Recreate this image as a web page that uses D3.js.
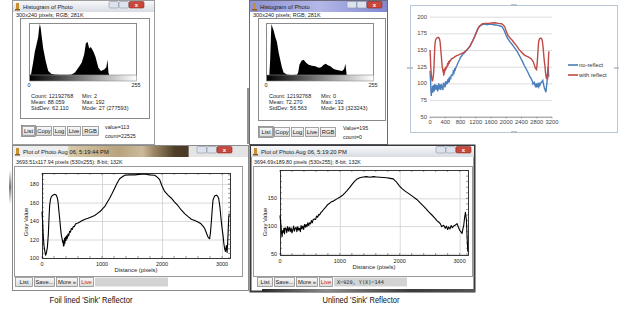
<!DOCTYPE html>
<html>
<head>
<meta charset="utf-8">
<script src="https://cdn.jsdelivr.net/npm/d3@7"></script>
<style>
  html, body { margin: 0; padding: 0; background: #fff; }
  svg { display: block; font-family: "Liberation Sans", Arial, sans-serif; }
</style>
</head>
<body>
<svg id="chart" width="619" height="311"></svg>
<script>
// ---- data ----
// histogram 1 (bin -> count relative to the mode)
const hist1Bins = [2, 5, 10, 14, 18, 21, 22, 24, 26, 28, 30, 34, 40, 46, 54, 62, 75, 95, 102, 110, 118, 126, 132, 136, 140, 144, 148, 154, 159, 166, 172, 180, 185, 188, 190, 191, 192];
const hist1Vals = [0, 0.02, 0.25, 0.46, 0.6, 0.71, 0.74, 0.9, 1.0, 0.92, 0.78, 0.52, 0.27, 0.08, 0.02, 0.01, 0.005, 0.005, 0.01, 0.05, 0.14, 0.24, 0.4, 0.62, 0.65, 0.52, 0.55, 0.46, 0.36, 0.14, 0.08, 0.11, 0.15, 0.3, 0.05, 0.02, 0];
// histogram 2
const hist2Bins = [0, 8, 10, 12, 13, 16, 18, 22, 26, 30, 34, 38, 42, 50, 60, 74, 77, 80, 85, 90, 96, 102, 110, 118, 126, 132, 138, 143, 148, 154, 162, 170, 182, 187, 190, 191, 193];
const hist2Vals = [0, 0, 0.3, 0.8, 1.0, 0.92, 0.88, 0.75, 0.65, 0.45, 0.3, 0.15, 0.05, 0.01, 0, 0.005, 0.05, 0.2, 0.28, 0.3, 0.24, 0.2, 0.18, 0.17, 0.14, 0.15, 0.2, 0.22, 0.19, 0.17, 0.12, 0.1, 0.08, 0.12, 0.22, 0.15, 0];

const hist1Stats = ["Count: 12192768", "Mean: 88.059", "StdDev: 62.110"];
const hist1Stats2 = ["Min: 2", "Max: 192", "Mode: 27 (277593)"];
const hist2Stats = ["Count: 12192768", "Mean: 72.270", "StdDev: 56.563"];
const hist2Stats2 = ["Min: 0", "Max: 192", "Mode: 13 (323243)"];
const histButtons = ["List", "Copy", "Log", "Live", "RGB"];

// profile with foil lined reflector (distance, gray value)
const foilDist = [0, 10, 20, 33, 45, 60, 75, 90, 105, 118, 128, 140, 155, 180, 211, 239, 255, 267, 280, 294, 310, 322, 335, 345, 350, 358, 367, 375, 382, 389, 400, 410, 420, 433, 445, 460, 475, 489, 505, 520, 540, 560, 572, 600, 630, 656, 700, 740, 767, 820, 878, 920, 961, 1000, 1044, 1085, 1128, 1170, 1211, 1250, 1294, 1340, 1378, 1450, 1544, 1620, 1711, 1790, 1878, 1920, 1961, 2000, 2044, 2100, 2156, 2210, 2267, 2320, 2378, 2430, 2489, 2545, 2600, 2650, 2690, 2711, 2740, 2767, 2794, 2808, 2822, 2836, 2850, 2875, 2906, 2925, 2944, 2965, 2989, 3003, 3017, 3030, 3044, 3058, 3072, 3085, 3095, 3103, 3111, 3120];
const foilGray = [150, 140, 125, 113.5, 108, 103, 106, 112, 125, 145, 157, 163, 166.5, 168, 169, 168, 165, 161, 152, 143, 132, 124.5, 121, 117, 119, 113, 113.5, 121, 116, 122.6, 119, 124, 121, 126, 124, 129, 128, 132, 131, 134, 134, 137, 137, 138, 139, 140, 141.5, 142.5, 143, 144.5, 146, 148, 150, 152.5, 155.5, 160, 164.7, 170, 175.6, 181, 185.8, 188, 189.5, 190, 190, 190.5, 191, 190, 189.5, 187.5, 184.7, 178, 172, 168, 164.7, 160.5, 156.6, 152, 148, 145, 142, 140.5, 139, 137, 134, 132, 127, 122.6, 120.8, 128, 139, 152, 162.8, 167, 168, 167, 164.7, 155, 139, 131, 124.5, 116, 110, 107, 113.5, 106, 118, 130, 143, 148];

// profile with unlined reflector
const openDist = [0, 10, 17, 25, 34, 45, 56, 65, 75, 85, 101, 112, 125, 140, 157, 170, 185, 200, 213, 228, 240, 255, 269, 282, 297, 310, 325, 340, 352, 366, 381, 395, 410, 425, 437, 450, 465, 480, 493, 510, 525, 540, 555, 577, 595, 610, 630, 645, 661, 680, 700, 720, 745, 770, 800, 829, 860, 890, 913, 950, 997, 1040, 1081, 1120, 1165, 1210, 1249, 1290, 1333, 1390, 1445, 1500, 1560, 1613, 1670, 1730, 1781, 1840, 1893, 1920, 1949, 1990, 2033, 2090, 2145, 2210, 2285, 2350, 2425, 2480, 2537, 2590, 2620, 2649, 2680, 2700, 2733, 2760, 2780, 2800, 2817, 2840, 2860, 2880, 2901, 2930, 2957, 2980, 3002, 3020, 3041, 3055, 3069, 3083, 3097, 3105, 3114, 3125, 3137];
const openGray = [119, 108, 101, 88, 81, 92, 89, 96, 86, 97, 95, 88, 99, 91, 98, 90, 97, 88, 93, 100, 91, 96, 98, 90, 99, 93, 96, 90, 101, 95, 100, 94, 103, 98, 103, 99, 106, 101, 106, 104, 110, 106, 112, 113, 112, 118, 116, 121, 120, 124, 126, 129, 132, 135, 139, 141, 144, 145, 146.5, 149, 152, 155, 159.5, 164, 169.6, 176, 181, 185, 187, 188.5, 189, 188, 189, 188.5, 188, 187.5, 187, 186, 185, 182, 179, 173, 168, 163, 159, 154, 148, 141, 133, 126, 120, 114, 110, 107.4, 104, 99, 101.5, 96, 100, 94, 98.5, 95, 101, 97, 100.3, 102, 104.4, 98, 92.6, 90, 86.7, 95, 101.5, 115, 125, 118, 110, 80, 54];

const excelXTicks = [0, 400, 800, 1200, 1600, 2000, 2400, 2800, 3200];
const excelYTicks = [50, 75, 100, 125, 150, 175, 200];
const excelSeries = ["no-reflect", "with reflect"];
const plotXTicks = [0, 1000, 2000, 3000];
const foilYTicks = [100, 120, 140, 160, 180];
const openYTicks = [50, 100, 150];
const plotButtons = ["List", "Save...", "More \u00bb", "Live"];

const svg = d3.select('#chart');
const defs = svg.append('defs');

function gradient(id, stops, horizontal) {
    const g = defs.append('linearGradient').attr('id', id)
        .attr('x1', 0).attr('y1', 0).attr('x2', horizontal ? 1 : 0).attr('y2', horizontal ? 0 : 1);
    stops.forEach(s => g.append('stop').attr('offset', s[0]).attr('stop-color', s[1]));
}
gradient('tbGray', [[0, '#f7f8fa'], [1, '#d8dce2']]);
gradient('tbBlue', [[0, '#8d93d4'], [0.5, '#b3b8e8'], [1, '#8188cf']], true);
gradient('tbBrown', [[0, '#eeeeee'], [0.23, '#eeeeee'], [0.24, '#d8c9a8'], [0.45, '#b9a27c'], [0.55, '#cbbb9b'], [0.6, '#9c8664'], [0.69, '#4e3e28'], [0.745, '#4a3a26'], [0.75, '#e4e4e4'], [1, '#e4e4e4']], true);
gradient('btn', [[0, '#fbfbfb'], [1, '#d9d9d9']]);
gradient('grayRamp', [[0, '#000'], [1, '#fff']], true);
gradient('shadowB', [[0, '#2a2a2a'], [0.3, '#8a8a8a'], [0.7, '#3a3a3a'], [1, '#555']], true);
gradient('shadowL', [[0, '#fff'], [0.5, '#777'], [1, '#fff']]);

function text(g, x, y, s, size, anchor, fill, family) {
    return g.append('text').attr('x', x).attr('y', y).attr('font-size', size)
        .attr('text-anchor', anchor || 'start').attr('fill', fill || '#222')
        .attr('font-family', family || null).text(s);
}

function drawWindow(o) {
    const g = svg.append('g');
    g.append('rect').attr('x', o.x + 0.5).attr('y', o.y + 0.5).attr('width', o.w).attr('height', o.h)
        .attr('fill', '#fff').attr('stroke', o.edge || '#9c9c9c').attr('stroke-width', o.edgeW || 1);
    g.append('rect').attr('x', o.x + 1).attr('y', o.y + 1).attr('width', o.w - 1).attr('height', 11)
        .attr('fill', `url(#${o.tb})`);
    // ImageJ icon
    g.append('rect').attr('x', o.x + 4).attr('y', o.y + 3).attr('width', 3).attr('height', 7).attr('fill', '#c8902e');
    g.append('rect').attr('x', o.x + 3).attr('y', o.y + 9).attr('width', 5).attr('height', 1.5).attr('fill', '#8a5a18');
    text(g, o.x + 11, o.y + 8.5, o.title, 5.8, 'start', '#1a1a1a');
    // caption buttons
    const cx = o.ctrlX;
    [0, 10].forEach(dx => g.append('rect').attr('x', cx + dx).attr('y', o.y + 1.5).attr('width', 9.5).attr('height', 6.5)
        .attr('rx', 1.2).attr('fill', '#dde3ec').attr('stroke', '#8a94a4').attr('stroke-width', 0.6));
    g.append('rect').attr('x', cx + 20).attr('y', o.y + 1.5).attr('width', 15).attr('height', 6.5)
        .attr('rx', 1.2).attr('fill', '#c9483b').attr('stroke', '#8c2a20').attr('stroke-width', 0.6);
    g.append('text').attr('x', cx + 27.5).attr('y', o.y + 7).attr('text-anchor', 'middle')
        .attr('font-size', 6).attr('fill', '#fff').attr('font-weight', 'bold').text('x');
    return g;
}

function button(g, x, y, w, h, label, color) {
    g.append('rect').attr('x', x + 0.5).attr('y', y + 0.5).attr('width', w).attr('height', h)
        .attr('fill', 'url(#btn)').attr('stroke', '#8e8e8e').attr('stroke-width', 0.8);
    text(g, x + w / 2 + 0.5, y + h / 2 + 2.4, label, 5.8, 'middle', color || '#222');
}

// ---- histogram windows ----
function drawHistogram(o) {
    const g = drawWindow(o.win);
    text(g, o.win.x + 4, 16.5, '300x240 pixels; RGB; 281K', 5.5);
    g.append('rect').attr('x', o.panel[0] + 0.5).attr('y', o.panel[1] + 0.5)
        .attr('width', o.panel[2] - o.panel[0]).attr('height', o.panel[3] - o.panel[1])
        .attr('fill', 'none').attr('stroke', '#8a8a8a');
    const [bx0, by0, bx1, by1] = o.box;
    const x = d3.scaleLinear().domain([0, 256]).range([bx0, bx1]);
    const y = d3.scaleLinear().domain([0, 1]).range([by1, by0 + 1]);
    g.append('rect').attr('x', bx0 + 0.5).attr('y', by0 + 0.5).attr('width', bx1 - bx0).attr('height', by1 - by0)
        .attr('fill', '#fff').attr('stroke', '#8a8a8a');
    const area = d3.area().x(d => x(d[0])).y0(by1).y1(d => y(d[1]));
    g.append('path').datum(d3.zip(o.bins, o.vals)).attr('d', area).attr('fill', '#000');
    g.append('rect').attr('x', bx0 + 0.5).attr('y', by1).attr('width', bx1 - bx0).attr('height', 6)
        .attr('fill', 'url(#grayRamp)').attr('stroke', '#8a8a8a').attr('stroke-width', 0.6);
    text(g, bx0, by1 + 11.5, '0', 5.5, 'middle');
    text(g, bx1, by1 + 11.5, '255', 5.5, 'middle');
    o.stats.forEach((s, i) => text(g, o.statX[0], 97.5 + i * 6, s, 5.5));
    o.stats2.forEach((s, i) => text(g, o.statX[1], 97.5 + i * 6, s, 5.5));
    let bx = o.btnX;
    histButtons.forEach((b, i) => {
        const w = o.btnW[i];
        button(g, bx, o.btnY, w, 9, b);
        bx += w + 2;
    });
    g.append('rect').attr('x', o.btnX - 0.5).attr('y', o.btnY - 0.5).attr('width', o.btnW[0] + 2).attr('height', 11)
        .attr('fill', 'none').attr('stroke', '#555').attr('stroke-width', 0.6);
    text(g, o.valX, o.btnY + 3, o.valueText, 5.3);
    text(g, o.valX, o.btnY + 12, o.countText, 5.3);
}

drawHistogram({
    win: {x: 12, y: 0, w: 142, h: 144, title: 'Histogram of Photo', tb: 'tbGray', ctrlX: 109},
    panel: [20, 18, 149, 118], box: [29, 23, 136, 75],
    bins: hist1Bins, vals: hist1Vals, stats: hist1Stats, stats2: hist1Stats2, statX: [31, 82],
    btnX: 22, btnY: 126, btnW: [12, 15, 12, 13, 16], valX: 105,
    valueText: 'value=113', countText: 'count=22525'
});
drawHistogram({
    win: {x: 249, y: 0, w: 138, h: 144, title: 'Histogram of Photo', tb: 'tbBlue', edge: '#6a6a7a', ctrlX: 347},
    panel: [258, 18, 385, 120], box: [266, 23, 373, 75],
    bins: hist2Bins, vals: hist2Vals, stats: hist2Stats, stats2: hist2Stats2, statX: [269, 321],
    btnX: 259, btnY: 127, btnW: [13, 15, 12, 13, 15], valX: 343,
    valueText: 'Value=195', countText: 'count=0'
});
svg.append('rect').attr('x', 247).attr('y', 88).attr('width', 2.5).attr('height', 56).attr('fill', '#666').attr('opacity', 0.7);

// ---- Excel comparison chart ----
(function () {
    const g = svg.append('g');
    g.append('rect').attr('x', 410.5).attr('y', 5.5).attr('width', 207).attr('height', 127)
        .attr('fill', '#fff').attr('stroke', '#b9c6d4');
    [[514, 5], [514, 132], [410, 68], [617, 68]].forEach(p =>
        g.append('rect').attr('x', p[0] - 3).attr('y', p[1] - 0.7).attr('width', 6).attr('height', 1.4).attr('fill', '#a8b4c2'));
    const x = d3.scaleLinear().domain([0, 3200]).range([430, 552]);
    const y = d3.scaleLinear().domain([50, 200]).range([116.7, 16.7]);
    excelYTicks.forEach(t => {
        if (t > 50) g.append('line').attr('x1', 430).attr('x2', 552).attr('y1', y(t) + 0.5).attr('y2', y(t) + 0.5)
            .attr('stroke', '#d4d4d4').attr('stroke-width', 0.8);
        text(g, 427, y(t) + 2, t, 5.8, 'end', '#444');
    });
    g.append('line').attr('x1', 430).attr('x2', 552).attr('y1', y(50) + 0.5).attr('y2', y(50) + 0.5).attr('stroke', '#8a8a8a');
    excelXTicks.forEach(t => {
        g.append('line').attr('x1', x(t)).attr('x2', x(t)).attr('y1', y(50)).attr('y2', y(50) + 2).attr('stroke', '#8a8a8a').attr('stroke-width', 0.6);
        text(g, x(t), 124, t, 5.8, 'middle', '#444');
    });
    const line = d3.line().x(d => x(d[0])).y(d => y(d[1]));
    // the spreadsheet copy of the profiles stops at 3120 px
    const inSheet = d => d[0] <= 3120;
    g.append('path').datum(d3.zip(openDist, openGray).filter(inSheet)).attr('d', line)
        .attr('fill', 'none').attr('stroke', '#4a7ebb').attr('stroke-width', 1.4);
    g.append('path').datum(d3.zip(foilDist, foilGray).filter(inSheet)).attr('d', line)
        .attr('fill', 'none').attr('stroke', '#be4b48').attr('stroke-width', 1.4);
    const colors = ['#4a7ebb', '#be4b48'];
    excelSeries.forEach((s, i) => {
        const ly = 65 + i * 10;
        g.append('line').attr('x1', 568).attr('x2', 578).attr('y1', ly).attr('y2', ly)
            .attr('stroke', colors[i]).attr('stroke-width', 1.6);
        text(g, 579, ly + 2, s, 5.8, 'start', '#333');
    });
})();

// ---- ImageJ profile plot windows ----
function drawProfile(o) {
    const g = drawWindow(o.win);
    text(g, o.win.x + 4, o.win.y + 19, o.sub, 5.3);
    g.append('rect').attr('x', o.panel[0] + 0.5).attr('y', o.panel[1] + 0.5)
        .attr('width', o.panel[2] - o.panel[0]).attr('height', o.panel[3] - o.panel[1])
        .attr('fill', 'none').attr('stroke', '#9a9a9a');
    const [bx0, by0, bx1, by1] = o.box;
    const x = d3.scaleLinear().domain(o.xDomain).range([bx0, bx1]);
    const y = d3.scaleLinear().domain(o.yDomain).range([by1, by0]);
    plotXTicks.forEach(t => {
        if (t > 0) g.append('line').attr('x1', x(t) + 0.5).attr('x2', x(t) + 0.5).attr('y1', by0).attr('y2', by1)
            .attr('stroke', '#cfcfcf').attr('stroke-width', 0.8);
        text(g, x(t), by1 + 7.5, t, 5.5, 'middle');
    });
    o.yTicks.forEach(t => {
        if (t > o.yDomain[0] + 1) g.append('line').attr('x1', bx0).attr('x2', bx1).attr('y1', y(t) + 0.5).attr('y2', y(t) + 0.5)
            .attr('stroke', '#cfcfcf').attr('stroke-width', 0.8);
        text(g, bx0 - 3, y(t) + 2, t, 5.5, 'end');
    });
    // minor ticks inside the frame
    d3.range(0, o.xDomain[1], 200).forEach(t => {
        [[by0, by0 + 2], [by1 - 2, by1]].forEach(p => g.append('line').attr('x1', x(t)).attr('x2', x(t))
            .attr('y1', p[0]).attr('y2', p[1]).attr('stroke', '#333').attr('stroke-width', 0.5));
    });
    d3.range(Math.ceil(o.yDomain[0] / o.yMinor) * o.yMinor, o.yDomain[1], o.yMinor).forEach(t => {
        [[bx0, bx0 + 2], [bx1 - 2, bx1]].forEach(p => g.append('line').attr('y1', y(t)).attr('y2', y(t))
            .attr('x1', p[0]).attr('x2', p[1]).attr('stroke', '#333').attr('stroke-width', 0.5));
    });
    g.append('rect').attr('x', bx0 + 0.5).attr('y', by0 + 0.5).attr('width', bx1 - bx0).attr('height', by1 - by0)
        .attr('fill', 'none').attr('stroke', '#222').attr('stroke-width', 0.9);
    const line = d3.line().x(d => x(d[0])).y(d => y(d[1]));
    g.append('path').datum(d3.zip(o.xs, o.ys)).attr('d', line)
        .attr('fill', 'none').attr('stroke', '#000').attr('stroke-width', 1.1).attr('stroke-linejoin', 'round');
    text(g, (bx0 + bx1) / 2, by1 + 14, 'Distance (pixels)', 5.8, 'middle');
    text(g, 0, 0, 'Gray Value', 5.8, 'middle').attr('transform', `translate(${o.ylabX},${o.ylabY}) rotate(-90)`);
    let bx = o.btnX;
    plotButtons.forEach((b, i) => {
        const w = o.btnW[i];
        button(g, bx, 277, w, 9, b, i === 3 ? '#d02020' : null);
        bx += w + 2;
    });
    g.append('rect').attr('x', bx).attr('y', 277.5).attr('width', o.statusW).attr('height', 9).attr('fill', '#d3d3d3');
    if (o.status) text(g, bx + 3, 284, o.status, 5.2, 'start', '#222', 'DejaVu Sans Mono');
}

drawProfile({
    win: {x: 12, y: 145, w: 236, h: 145, title: 'Plot of Photo Aug 06, 5:19:44 PM', tb: 'tbBrown', edge: '#8a8a8a', ctrlX: 197},
    sub: '3693.51x117.94 pixels (530x255); 8-bit; 132K',
    panel: [14, 166, 242, 276], box: [42, 173, 230, 258],
    xDomain: [0, 3133], yDomain: [100, 192], yTicks: foilYTicks, yMinor: 5,
    xs: foilDist, ys: foilGray, ylabX: 28, ylabY: 222,
    btnX: 15, btnW: [17, 20, 21, 14], statusW: 73, status: ''
});
drawProfile({
    win: {x: 250, y: 145, w: 224, h: 146, title: 'Plot of Photo Aug 06, 5:19:20 PM', tb: 'tbGray', edge: '#3a3a3a', edgeW: 2, ctrlX: 436},
    sub: '3694.69x189.80 pixels (530x255); 8-bit; 132K',
    panel: [253, 166, 472, 276], box: [280, 170, 468, 255],
    xDomain: [0, 3140], yDomain: [48, 201], yTicks: openYTicks, yMinor: 10,
    xs: openDist, ys: openGray, ylabX: 267, ylabY: 222,
    btnX: 257, btnW: [15, 20, 21, 13], statusW: 73, status: 'X=920, Y(X)=144'
});
// dark glass edge under the right plot window
svg.append('rect').attr('x', 262).attr('y', 289).attr('width', 213).attr('height', 3).attr('fill', 'url(#shadowB)');
svg.append('rect').attr('x', 9).attr('y', 170).attr('width', 2.5).attr('height', 34).attr('fill', 'url(#shadowL)');

// captions
text(svg, 91, 303, "Foil lined 'Sink' Reflector", 9, 'middle', '#111').attr('textLength', 83).attr('lengthAdjust', 'spacingAndGlyphs');
text(svg, 361, 303, "Unlined 'Sink' Reflector", 9, 'middle', '#111').attr('textLength', 77).attr('lengthAdjust', 'spacingAndGlyphs');
</script>
</body>
</html>
